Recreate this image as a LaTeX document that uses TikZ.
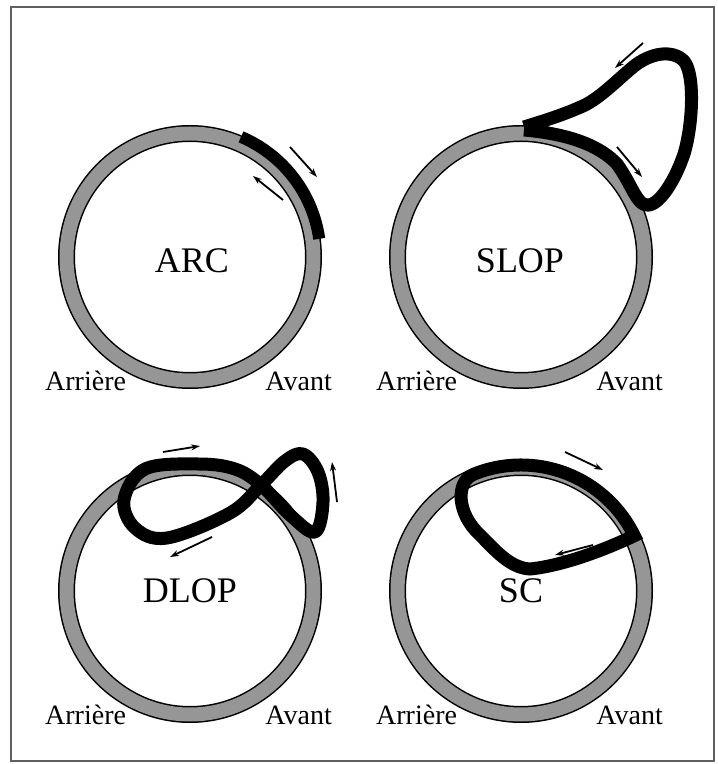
\documentclass[tikz,border=0pt]{standalone}
\usepackage{fontspec}
\setmainfont{Liberation Serif}
\usepackage{tikz}
\usetikzlibrary{arrows.meta}
\definecolor{ringgray}{RGB}{150,150,150}
\definecolor{framegray}{RGB}{96,96,96}

\begin{document}
\begin{tikzpicture}[x=1pt,y=1pt,>={Stealth[length=9pt,width=6pt]},
    ring/.style={line width=17pt},
    ringfill/.style={ringgray,line width=14pt},
    strand/.style={line width=13pt,line join=round},
    dirarrow/.style={->,line width=1.8pt},
    side/.style={font=\fontsize{28}{30}\selectfont,inner sep=0pt},
    kind/.style={font=\fontsize{36}{40}\selectfont,inner sep=0pt,anchor=base}]
  \useasboundingbox (0,0) rectangle (718,764);
  \draw[framegray,line width=2.5pt] (11,3) rectangle (714,757);

  \coordinate (arc) at (190,507);
  \coordinate (slop) at (521,507);
  \coordinate (dlop) at (190,173);
  \coordinate (sc) at (521,173);

  % rings and side labels
  \foreach \c in {arc,slop,dlop,sc}{
    \draw[ring] (\c) circle[radius=123.5];
    \draw[ringfill] (\c) circle[radius=123.5];
    \node[side,anchor=base west] (\c-back) at ([shift={(-145,-134)}]\c) {Arrière};
    \node[side,anchor=base east] (\c-front) at ([shift={(142,-134)}]\c) {Avant};
  }

  % ARC
  \draw[line width=12pt] ([shift={(67:130.5)}]arc) arc[start angle=67,end angle=8,radius=130.5];
  \draw[dirarrow] (290,617) -- (317,587);
  \draw[dirarrow] (283,564) -- (253,588);
  \node[kind] (arc-name) at (192,491) {ARC};

  % SLOP
  \draw[strand] (524,637) .. controls (550,645) and (565,650) .. (583,658)
    .. controls (600,666) and (615,682) .. (633,697)
    .. controls (650,711) and (672,715) .. (684,703)
    .. controls (695,690) and (693,640) .. (684,610)
    .. controls (673,578) and (655,553) .. (643,560)
    .. controls (635,565) and (630,582) .. (617,600)
    .. controls (600,618) and (570,630) .. (524,634);
  \draw[dirarrow] (643,721) -- (615,696);
  \draw[dirarrow] (617,617) -- (642,587);
  \node[kind] (slop-name) at (520,491) {SLOP};

  % DLOP
  \draw[strand] plot[smooth cycle,tension=0.6] coordinates {
    (124,264) (145,295) (198,300) (235,295) (261,279) (290,249) (315,232)
    (323,262) (318,292) (303,310) (285,303) (261,279) (230,251) (167,226) (135,236)};
  \draw[dirarrow] (163,312) -- (200,318);
  \draw[dirarrow] (337,262) -- (332,302);
  \draw[dirarrow] (212,227) -- (170,207);
  \node[kind] (dlop-name) at (190,161) {DLOP};

  % SC
  \draw[strand,line join=miter] ([shift={(26:126)}]sc) arc[start angle=26,end angle=112,radius=126]
    .. controls (455,282) and (457,250) .. (480,229)
    .. controls (495,214) and (510,196) .. (530,195)
    .. controls (560,198) and (600,212) .. cycle;
  \draw[dirarrow] (565,312) -- (603,294);
  \draw[dirarrow] (593,219) -- (555,209);
  \node[kind] (sc-name) at (521,161) {SC};
\end{tikzpicture}
\end{document}
